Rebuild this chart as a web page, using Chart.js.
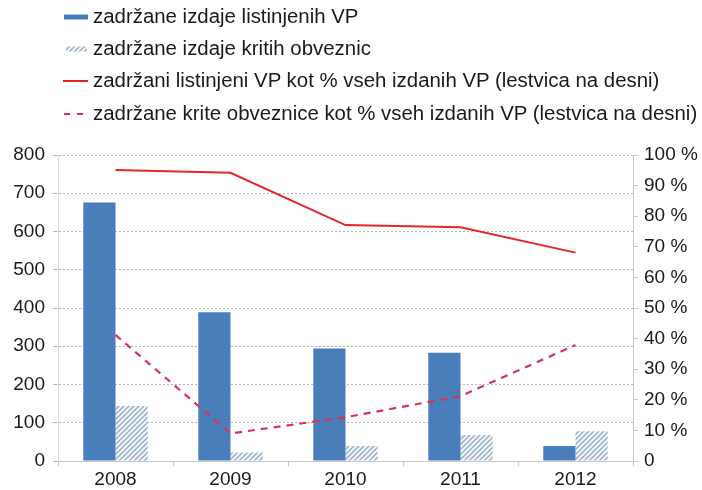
<!DOCTYPE html>
<html>
<head>
<meta charset="utf-8">
<script src="https://cdn.jsdelivr.net/npm/chart.js@4.4.1/dist/chart.umd.min.js"></script>
<style>
  html, body { margin: 0; padding: 0; background: #fff; }
  #wrap { position: relative; width: 702px; height: 490px; }
  #chart { position: absolute; left: 0; top: 0; }
  #legend { position: absolute; left: 63px; top: 0; font-family: "Liberation Sans", Arial, sans-serif; color: #1a1a1a; }
  .item { position: absolute; left: 0; white-space: nowrap; display: flex; align-items: center; }
  .item span.t { margin-left: 5px; }
  .sym { width: 25px; height: 12px; position: relative; }
</style>
</head>
<body>
<div id="wrap">
  <canvas id="chart" width="702" height="490"></canvas>
  <div id="legend"></div>
</div>
<script>
const years = ['2008', '2009', '2010', '2011', '2012'];
const listedIssues = [676, 389, 294, 283, 39];
const coveredBondIssues = [144, 22, 39, 68, 78];
const listedPct = [95.1, 94.2, 77.1, 76.4, 68.1];
const coveredPct = [41.2, 9.0, 14.3, 21.2, 37.9];
const leftTicks = [0, 100, 200, 300, 400, 500, 600, 700, 800];
const rightTicks = [0, 10, 20, 30, 40, 50, 60, 70, 80, 90, 100];
const seriesLabels = [
  'zadržane izdaje listinjenih VP',
  'zadržane izdaje kritih obveznic',
  'zadržani listinjeni VP kot % vseh izdanih VP (lestvica na desni)',
  'zadržane krite obveznice kot % vseh izdanih VP (lestvica na desni)'
];

const BLUE = '#4a7ebb';
const HATCH = '#93abc6';
const RED = '#e2262c';
const RED2 = '#d8325a';
const FONT = '"Liberation Sans", Arial, sans-serif';

function hatchPattern() {
  const c = document.createElement('canvas');
  c.width = 5; c.height = 5;
  const g = c.getContext('2d');
  g.fillStyle = '#f2f5f8';
  g.fillRect(0, 0, 5, 5);
  g.strokeStyle = HATCH;
  g.lineWidth = 1.4;
  g.beginPath();
  g.moveTo(-1, 6); g.lineTo(6, -1);
  g.moveTo(-1, 1); g.lineTo(1, -1);
  g.moveTo(4, 6); g.lineTo(6, 4);
  g.stroke();
  return document.getElementById('chart').getContext('2d').createPattern(c, 'repeat');
}
const pattern = hatchPattern();

const ctx = document.getElementById('chart');
new Chart(ctx, {
  type: 'bar',
  data: {
    labels: years,
    datasets: [
      { type: 'line', label: seriesLabels[2], data: listedPct, yAxisID: 'y1', borderColor: RED, borderWidth: 2, pointRadius: 0, tension: 0, order: 0 },
      { type: 'line', label: seriesLabels[3], data: coveredPct, yAxisID: 'y1', borderColor: RED2, borderWidth: 2.2, borderDash: [7, 6], pointRadius: 0, tension: 0, order: 0 },
      { label: seriesLabels[0], data: listedIssues, backgroundColor: BLUE, yAxisID: 'y', order: 1 },
      { label: seriesLabels[1], data: coveredBondIssues, backgroundColor: pattern, yAxisID: 'y', order: 1 }
    ]
  },
  options: {
    responsive: false,
    animation: false,
    layout: { padding: { top: 155, left: 0, right: 0, bottom: 0 } },
    plugins: { legend: { display: false }, tooltip: { enabled: false } },
    datasets: { bar: { categoryPercentage: 0.56, barPercentage: 1.0 } },
    scales: {
      x: {
        grid: { display: true, offset: true, drawOnChartArea: false, tickLength: 5, color: '#c8c8c8' },
        border: { display: true, color: '#c8c8c8' },
        ticks: { font: { family: FONT, size: 19 }, color: '#1a1a1a', padding: 2 },
        afterFit: s => { s.height = 29; }
      },
      y: {
        position: 'left',
        min: 0, max: 800,
        afterBuildTicks: s => { s.ticks = leftTicks.map(v => ({ value: v })); },
        grid: { color: '#b5b5b5', tickLength: 5, lineWidth: 1 },
        border: { display: true, color: '#dcdcdc', dash: [2, 2] },
        ticks: { font: { family: FONT, size: 19 }, color: '#1a1a1a', padding: 8 },
        afterFit: s => { s.width = 58; }
      },
      y1: {
        position: 'right',
        min: 0, max: 100,
        afterBuildTicks: s => { s.ticks = rightTicks.map(v => ({ value: v })); },
        grid: { drawOnChartArea: false, tickLength: 5, color: '#c8c8c8' },
        border: { display: true, color: '#c8c8c8' },
        ticks: { font: { family: FONT, size: 19 }, color: '#1a1a1a', padding: 6, callback: v => v === 0 ? '0' : v + ' %' },
        afterFit: s => { s.width = 69; }
      }
    }
  }
});

// HTML legend built from series labels
const legend = document.getElementById('legend');
const ys = [17, 49, 81, 114];
const m = document.createElement('canvas').getContext('2d');
m.font = '18px ' + FONT;
const target = 605;
const fs = 18 * target / m.measureText(seriesLabels[3]).width;
seriesLabels.forEach((lab, i) => {
  const it = document.createElement('div');
  it.className = 'item';
  it.style.fontSize = fs + 'px';
  it.style.top = (ys[i] - fs * 0.6) + 'px';
  it.style.height = (fs * 1.2) + 'px';
  const sym = document.createElement('canvas');
  sym.width = 25; sym.height = 12; sym.className = 'sym';
  const g = sym.getContext('2d');
  if (i === 0) { g.fillStyle = BLUE; g.fillRect(1, 3.5, 24, 5); }
  if (i === 1) { g.fillStyle = pattern; g.fillRect(3, 3.5, 21, 5); }
  if (i === 2) { g.strokeStyle = RED; g.lineWidth = 2; g.beginPath(); g.moveTo(0, 6); g.lineTo(25, 6); g.stroke(); }
  if (i === 3) { g.strokeStyle = RED2; g.lineWidth = 2; g.setLineDash([6, 7]); g.beginPath(); g.moveTo(1, 6); g.lineTo(25, 6); g.stroke(); }
  const t = document.createElement('span');
  t.className = 't';
  t.textContent = lab;
  it.appendChild(sym); it.appendChild(t);
  legend.appendChild(it);
});
</script>
</body>
</html>
